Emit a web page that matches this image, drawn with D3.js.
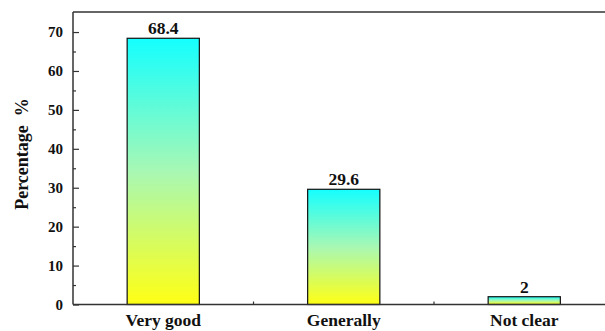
<!DOCTYPE html>
<html><head><meta charset="utf-8">
<script src="https://cdn.jsdelivr.net/npm/d3@7"></script>
<style>body{margin:0;background:#fff}svg{display:block}text{font-family:"Liberation Serif","Times New Roman",serif;font-weight:bold;fill:#111}</style>
</head><body>
<svg id="c" width="605" height="331"></svg>
<script>
const categories = ["Very good", "Generally", "Not clear"];
const values = [68.4, 29.6, 2];
const valueLabels = ["68.4", "29.6", "2"];
const yTicks = [0, 10, 20, 30, 40, 50, 60, 70];
const yMinorTicks = [5, 15, 25, 35, 45, 55, 65];

(function () {
const svg = d3.select("#c");
const pl = 73, pr = 614.5, pt = 12, pb = 304.5;
const x = d3.scaleBand().domain(categories).range([pl, pr]).paddingInner(0.6).paddingOuter(0.3);
const y = d3.scaleLinear().domain([0, 75.15]).range([pb, pt]);

const defs = svg.append("defs");
const g = defs.append("linearGradient").attr("id", "grad").attr("x1", 0).attr("y1", 0).attr("x2", 0).attr("y2", 1);
g.append("stop").attr("offset", "0%").attr("stop-color", "#14ffff");
g.append("stop").attr("offset", "50%").attr("stop-color", "#a8f8b4");
g.append("stop").attr("offset", "100%").attr("stop-color", "#ffff14");

svg.selectAll("rect.bar").data(values).join("rect")
  .attr("class", "bar")
  .attr("x", (d, i) => x(categories[i]))
  .attr("width", x.bandwidth())
  .attr("y", d => y(d))
  .attr("height", d => y(0) - y(d))
  .attr("fill", "url(#grad)")
  .attr("stroke", "#111").attr("stroke-width", 1.2);

svg.selectAll("text.val").data(values).join("text")
  .attr("class", "val")
  .attr("x", (d, i) => x(categories[i]) + x.bandwidth() / 2)
  .attr("y", d => y(d) - 4)
  .attr("text-anchor", "middle")
  .attr("font-size", "17.5px")
  .text((d, i) => valueLabels[i]);

svg.append("line").attr("x1", pl).attr("x2", 605).attr("y1", pt).attr("y2", pt)
  .attr("stroke", "#333").attr("stroke-width", 1.5);

const yAxis = d3.axisLeft(y).tickValues(yTicks).tickSize(-6).tickPadding(10).tickFormat(d3.format("d"));
const ya = svg.append("g").attr("transform", `translate(${pl},0)`).call(yAxis);
ya.attr("font-size", null).attr("font-family", null);
ya.select(".domain").attr("d", `M0,${pt}V${pb}`).attr("stroke", "#333").attr("stroke-width", 1.5);
ya.selectAll(".tick line").attr("stroke", "#333").attr("stroke-width", 1.2);
ya.selectAll(".tick text").attr("font-size", "15px").attr("fill", "#111");
const yMinor = d3.axisLeft(y).tickValues(yMinorTicks).tickSize(-3).tickFormat("");
const ym = svg.append("g").attr("transform", `translate(${pl},0)`).call(yMinor);
ym.select(".domain").remove();
ym.selectAll(".tick line").attr("stroke", "#333").attr("stroke-width", 1.2);

const xAxis = d3.axisBottom(x).tickSize(0).tickPadding(9);
const xa = svg.append("g").attr("transform", `translate(0,${pb})`).call(xAxis);
xa.attr("font-size", null).attr("font-family", null);
xa.select(".domain").attr("d", `M${pl},0H605`).attr("stroke", "#333").attr("stroke-width", 1.5);
xa.selectAll(".tick text").attr("font-size", "17.5px").attr("fill", "#111");
const mids = [0.5, 1.5].map(k => x(categories[0]) + x.bandwidth() / 2 + k * x.step());
svg.selectAll("line.xm").data(mids).join("line").attr("class", "xm")
  .attr("x1", d => d).attr("x2", d => d).attr("y1", pb).attr("y2", pb - 3)
  .attr("stroke", "#333").attr("stroke-width", 1.2);

svg.append("text").attr("transform", `translate(28,154) rotate(-90)`)
  .attr("text-anchor", "middle").attr("font-size", "18px")
  .text("Percentage\u00a0\u00a0%");
})();
</script>
</body></html>
